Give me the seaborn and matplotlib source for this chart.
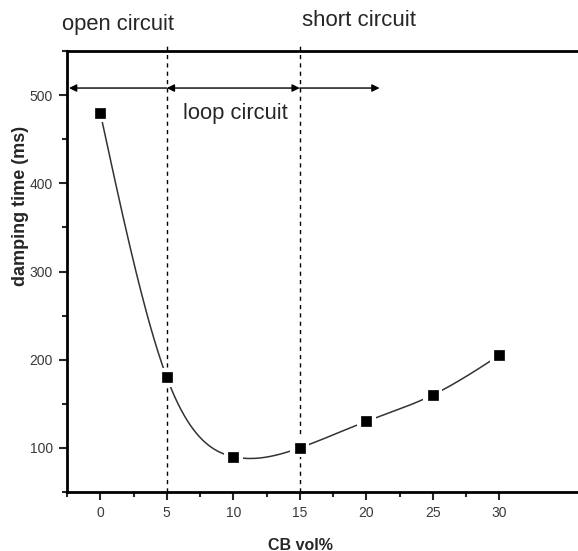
import numpy as np
import pandas as pd
import matplotlib
matplotlib.use("Agg")
import matplotlib.pyplot as plt
import seaborn as sns
from matplotlib.ticker import MultipleLocator, FixedLocator

# CB content (vol%) and measured damping time (ms)
cb_vol = [0, 5, 10, 15, 20, 25, 30]
damping_ms = [480, 180, 90, 100, 130, 160, 205]

region_labels = ["open circuit", "loop circuit", "short circuit"]
region_bounds = [5, 15]


def natural_spline(x, y, xs):
    """Natural cubic spline through (x, y), evaluated at xs."""
    x = np.asarray(x, float)
    y = np.asarray(y, float)
    n = len(x)
    h = np.diff(x)
    A = np.zeros((n, n))
    b = np.zeros(n)
    A[0, 0] = A[-1, -1] = 1.0
    for i in range(1, n - 1):
        A[i, i - 1] = h[i - 1]
        A[i, i] = 2 * (h[i - 1] + h[i])
        A[i, i + 1] = h[i]
        b[i] = 3 * ((y[i + 1] - y[i]) / h[i] - (y[i] - y[i - 1]) / h[i - 1])
    c = np.linalg.solve(A, b)
    out = np.empty_like(xs)
    for k, xv in enumerate(xs):
        i = min(max(np.searchsorted(x, xv) - 1, 0), n - 2)
        dx = xv - x[i]
        bi = (y[i + 1] - y[i]) / h[i] - h[i] * (2 * c[i] + c[i + 1]) / 3
        di = (c[i + 1] - c[i]) / (3 * h[i])
        out[k] = y[i] + bi * dx + c[i] * dx ** 2 + di * dx ** 3
    return out


sns.set_style("ticks")
plt.rcParams["font.family"] = ["Liberation Sans", "DejaVu Sans"]

W, H = 578, 551
fig = plt.figure(figsize=(W / 100, H / 100), dpi=100)
ax = fig.add_axes([67 / W, (H - 492) / H, 1 - 67 / W, (492 - 51) / H])

xs = np.linspace(cb_vol[0], cb_vol[-1], 400)
curve = pd.DataFrame({"x": xs, "y": natural_spline(cb_vol, damping_ms, xs)})
pts = pd.DataFrame({"x": cb_vol, "y": damping_ms})

sns.lineplot(data=curve, x="x", y="y", ax=ax, color="#333333", lw=1.1,
             estimator=None, sort=False)
# white halo so the curve stops short of each symbol
sns.scatterplot(data=pts, x="x", y="y", ax=ax, marker="s", s=190,
                color="white", edgecolor="none", zorder=3)
sns.scatterplot(data=pts, x="x", y="y", ax=ax, marker="s", s=50,
                color="black", edgecolor="black", linewidth=0.5, zorder=4)

x_left = -2.5
x_right = x_left + (W - 67) / 13.3
ax.set_xlim(x_left, x_right)
ax.set_ylim(50, 550)
ax.xaxis.set_major_locator(FixedLocator([0, 5, 10, 15, 20, 25, 30]))
ax.xaxis.set_minor_locator(FixedLocator([-2.5, 2.5, 7.5, 12.5, 17.5, 22.5, 27.5]))
ax.yaxis.set_major_locator(MultipleLocator(100))
ax.yaxis.set_minor_locator(MultipleLocator(50))
ax.tick_params(which="major", direction="out", length=6, width=1.5,
               labelsize=10, labelcolor="#3a3a3a", pad=4)
ax.tick_params(which="minor", direction="out", length=3.5, width=1.5)

for side in ["left", "bottom", "top"]:
    ax.spines[side].set_linewidth(2)
    ax.spines[side].set_color("black")
ax.spines["right"].set_visible(False)

ax.set_xlabel("CB vol%", fontsize=11.5, fontweight="bold")
ax.xaxis.set_label_coords((300 - 67) / (W - 67), -(545 - 492) / (492 - 51))
ax.xaxis.label.set_va("center")
ax.set_ylabel("damping time (ms)", fontsize=13, fontweight="bold")
ax.yaxis.set_label_coords(-(67 - 21) / (W - 67), (492 - 206) / (492 - 51))
ax.yaxis.label.set_va("center")

# region boundaries
for xb in region_bounds:
    ax.plot([xb, xb], [50, 559], ls=(0, (3, 3)), color="black", lw=1.0,
            clip_on=False, zorder=2)

# region arrows
y_arrow = 508
arrow_kw = dict(color="black", lw=1.0, mutation_scale=11, shrinkA=0, shrinkB=0)
ax.annotate("", xy=(x_left + 0.15, y_arrow), xytext=(5, y_arrow),
            arrowprops=dict(arrowstyle="-|>", **arrow_kw), annotation_clip=False)
ax.annotate("", xy=(5, y_arrow), xytext=(15, y_arrow),
            arrowprops=dict(arrowstyle="<|-|>", **arrow_kw))
ax.annotate("", xy=(21, y_arrow), xytext=(15, y_arrow),
            arrowprops=dict(arrowstyle="-|>", **arrow_kw))

ax.text(-2.85, 580, region_labels[0], fontsize=15.8, ha="left", va="center",
        clip_on=False)
ax.text(6.2, 479, region_labels[1], fontsize=15.8, ha="left", va="center")
ax.text(15.2, 585, region_labels[2], fontsize=16, ha="left", va="center",
        clip_on=False)

fig.savefig("out.png", dpi=100)
